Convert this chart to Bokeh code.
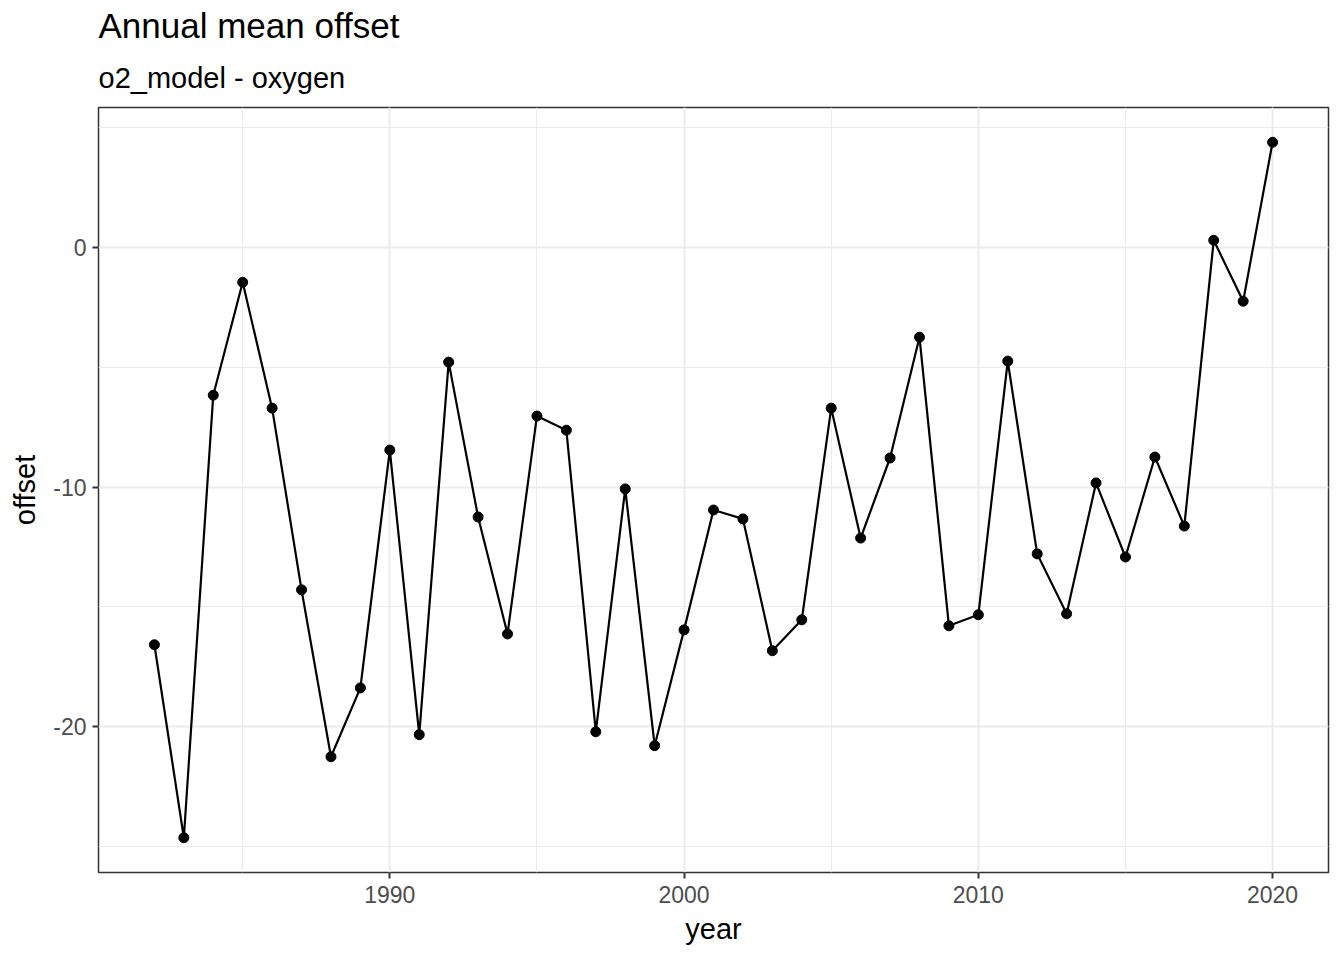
from bokeh.plotting import figure
from bokeh.models import Title, SingleIntervalTicker, CustomJSTickFormatter, Range1d
from bokeh.embed import file_html
from bokeh.resources import INLINE

years = list(range(1982, 2021))
offset = [-16.58, -24.63, -6.17, -1.46, -6.71, -14.29, -21.25, -18.38, -8.46, -20.33,
          -4.79, -11.25, -16.13, -7.04, -7.63, -20.21, -10.08, -20.79, -15.96, -10.96,
          -11.33, -16.83, -15.54, -6.71, -12.13, -8.79, -3.75, -15.79, -15.33, -4.75,
          -12.79, -15.29, -9.83, -12.92, -8.75, -11.63, 0.29, -2.25, 4.38]

title_text = "Annual mean offset"
subtitle_text = "o2_model - oxygen"
x_label = "year"
y_label = "offset"

FONT = "Liberation Sans"

xspan = max(years) - min(years)
yspan = max(offset) - min(offset)

p = figure(width=1336, height=948, output_backend="svg", toolbar_location=None,
           x_range=Range1d(min(years) - 0.05 * xspan, max(years) + 0.05 * xspan),
           y_range=Range1d(min(offset) - 0.05 * yspan, max(offset) + 0.05 * yspan),
           min_border_left=98, min_border_right=8, min_border_bottom=76, min_border_top=107)
p.title.visible = False
p.add_layout(Title(text=subtitle_text, text_font_size="29px", text_font=FONT,
                   text_font_style="normal", text_color="black", align="left",
                   standoff=28), "above")
p.add_layout(Title(text=title_text, text_font_size="35px", text_font=FONT,
                   text_font_style="normal", text_color="black", align="left",
                   standoff=1), "above")

p.background_fill_color = "white"
p.border_fill_color = "white"
p.outline_line_color = "#333333"
p.outline_line_width = 1.5

p.xaxis.ticker = SingleIntervalTicker(interval=10, num_minor_ticks=2)
p.yaxis.ticker = SingleIntervalTicker(interval=10, num_minor_ticks=2)
p.yaxis.formatter = CustomJSTickFormatter(code="return tick.toString();")
p.xaxis.formatter = CustomJSTickFormatter(code="return tick.toString();")

for ax in (p.xaxis, p.yaxis):
    ax.axis_line_color = None
    ax.major_tick_line_color = "#333333"
    ax.major_tick_line_width = 2
    ax.major_tick_out = 6
    ax.major_tick_in = 0
    ax.minor_tick_line_color = None
    ax.major_label_text_font = FONT
    ax.major_label_text_font_size = "23px"
    ax.major_label_text_color = "#4D4D4D"
    ax.axis_label_text_font = FONT
    ax.axis_label_text_font_size = "29px"
    ax.axis_label_text_font_style = "normal"
    ax.axis_label_text_color = "black"

p.xaxis.axis_label = x_label
p.yaxis.axis_label = y_label
p.xaxis.major_label_standoff = 7
p.yaxis.major_label_standoff = 6
p.xaxis.axis_label_standoff = 7
p.yaxis.axis_label_standoff = 9

for g in (p.xgrid, p.ygrid):
    g.grid_line_color = "#EBEBEB"
    g.grid_line_width = 2
    g.minor_grid_line_color = "#EBEBEB"
    g.minor_grid_line_width = 1

p.line(years, offset, line_color="black", line_width=2.2)
p.scatter(years, offset, size=10, fill_color="black", line_color="black")

open("out.html", "w").write(file_html(p, INLINE))
